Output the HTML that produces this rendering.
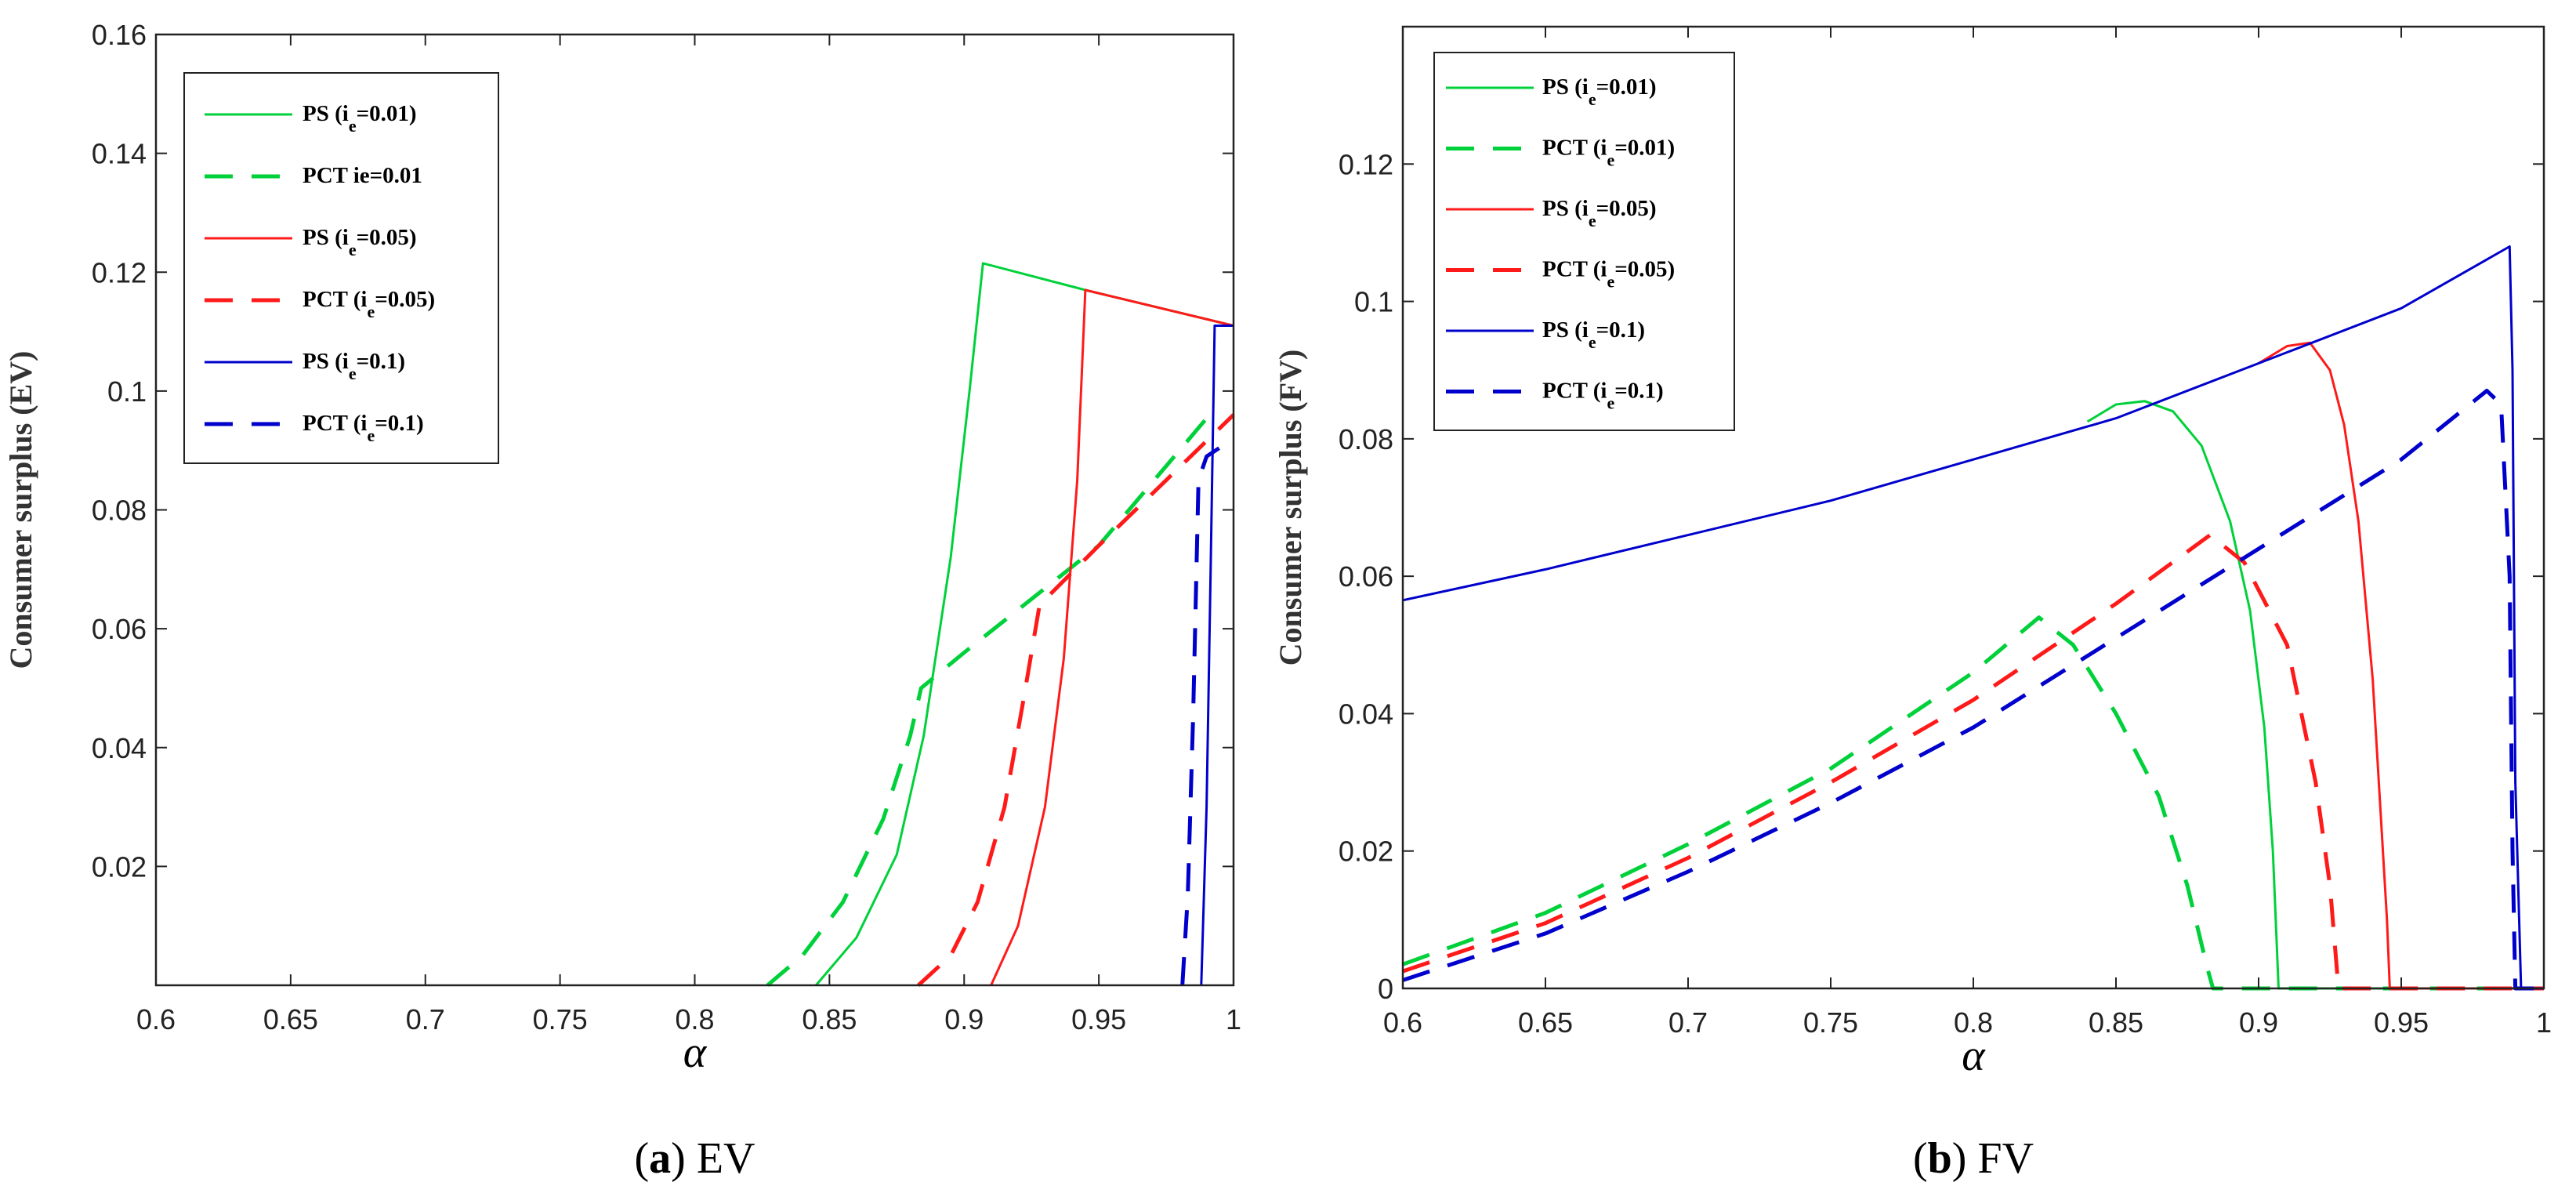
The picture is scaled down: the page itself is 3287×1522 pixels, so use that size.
<!DOCTYPE html>
<html><head><meta charset="utf-8"><style>
html,body{margin:0;padding:0;background:#fff;}
svg{display:block;}
.tick{font-family:"Liberation Sans",Arial,sans-serif;font-size:36px;fill:#222;}
.leg{font-family:"Liberation Serif",serif;font-weight:bold;font-size:29px;fill:#000;}
.ylab{font-family:"Liberation Serif",serif;font-weight:bold;font-size:40px;fill:#333;}
.cap{font-family:"Liberation Serif",serif;font-size:56px;fill:#000;}
</style></head><body>
<svg id="fig" width="3287" height="1522" viewBox="0 0 3287 1522" xmlns="http://www.w3.org/2000/svg"></svg>
<script>
// ---- Panel (a) EV data ----
const evXTicks = [0.6,0.65,0.7,0.75,0.8,0.85,0.9,0.95,1];
const evXTickLabels = ["0.6","0.65","0.7","0.75","0.8","0.85","0.9","0.95","1"];
const evYTicks = [0.02,0.04,0.06,0.08,0.1,0.12,0.14,0.16];
const evYTickLabels = ["0.02","0.04","0.06","0.08","0.1","0.12","0.14","0.16"];
const evPS001x = [0.845,0.86,0.875,0.885,0.895,0.902,0.907,0.945,1];
const evPS001y = [0,0.008,0.022,0.042,0.072,0.1,0.1215,0.117,0.111];
const evPCT001x = [0.827,0.84,0.855,0.87,0.88,0.884,0.9,0.95,0.993];
const evPCT001y = [0,0.005,0.014,0.028,0.042,0.05,0.056,0.074,0.097];
const evPS005x = [0.91,0.92,0.93,0.937,0.942,0.945,1];
const evPS005y = [0,0.01,0.03,0.055,0.085,0.117,0.111];
const evPCT005x = [0.883,0.895,0.905,0.915,0.922,0.928,0.95,1];
const evPCT005y = [0,0.005,0.014,0.03,0.048,0.064,0.074,0.096];
const evPS01x = [0.988,0.99,0.9915,0.993,1];
const evPS01y = [0,0.03,0.07,0.111,0.111];
const evPCT01x = [0.981,0.983,0.985,0.987,0.99,1];
const evPCT01y = [0,0.015,0.045,0.085,0.089,0.092];
// ---- Panel (b) FV data ----
const fvXTicks = [0.6,0.65,0.7,0.75,0.8,0.85,0.9,0.95,1];
const fvXTickLabels = ["0.6","0.65","0.7","0.75","0.8","0.85","0.9","0.95","1"];
const fvYTicks = [0,0.02,0.04,0.06,0.08,0.1,0.12];
const fvYTickLabels = ["0","0.02","0.04","0.06","0.08","0.1","0.12"];
const fvPS01x = [0.6,0.65,0.7,0.75,0.8,0.85,0.9,0.95,0.988,0.989,0.99,0.992,1];
const fvPS01y = [0.0565,0.061,0.066,0.071,0.077,0.083,0.091,0.099,0.108,0.09,0.03,0,0];
const fvPS001x = [0.84,0.85,0.86,0.87,0.88,0.89,0.897,0.902,0.905,0.907,1];
const fvPS001y = [0.0825,0.085,0.0855,0.084,0.079,0.068,0.055,0.038,0.02,0,0];
const fvPS005x = [0.9,0.91,0.918,0.925,0.93,0.935,0.94,0.945,0.946,1];
const fvPS005y = [0.091,0.0935,0.094,0.09,0.082,0.068,0.045,0.01,0,0];
const fvPCT001x = [0.6,0.65,0.7,0.75,0.8,0.823,0.835,0.85,0.865,0.875,0.882,0.884,1];
const fvPCT001y = [0.0035,0.011,0.021,0.032,0.046,0.054,0.05,0.04,0.028,0.015,0.003,0,0];
const fvPCT005x = [0.6,0.65,0.7,0.75,0.8,0.85,0.883,0.895,0.91,0.92,0.925,0.928,1];
const fvPCT005y = [0.0025,0.0095,0.019,0.03,0.042,0.056,0.066,0.062,0.05,0.03,0.015,0,0];
const fvPCT01x = [0.6,0.65,0.7,0.75,0.8,0.85,0.9,0.95,0.98,0.985,0.988,0.989,0.99,1];
const fvPCT01y = [0.0012,0.008,0.017,0.027,0.038,0.051,0.064,0.077,0.087,0.085,0.06,0.02,0,0];

const NS="http://www.w3.org/2000/svg";
const svg=document.getElementById('fig');
function mk(tag,attrs,parent){const e=document.createElementNS(NS,tag);for(const k in attrs)e.setAttribute(k,attrs[k]);(parent||svg).appendChild(e);return e;}

function panel(cfg){
  const g=mk('g',{});
  
  
  const sx=v=>cfg.x0+(v-cfg.xmin)/(cfg.xmax-cfg.xmin)*(cfg.x1-cfg.x0);
  const sy=v=>cfg.yb+(v-cfg.ymin)/(cfg.ymax-cfg.ymin)*(cfg.yt-cfg.yb);
  cfg.series.forEach(s=>{
    const pts=s.x.map((xv,i)=>sx(xv).toFixed(1)+','+sy(s.y[i]).toFixed(1)).join(' ');
    const p=mk('polyline',{points:pts,fill:'none',stroke:s.color,'stroke-width':s.dash?5:3,'stroke-dasharray':s.dash?'36,24':'none','stroke-linejoin':'round'},g);
    
    
  });
  const box=mk('rect',{x:cfg.x0,y:cfg.yt,width:cfg.x1-cfg.x0,height:cfg.yb-cfg.yt,fill:'none',stroke:'#222','stroke-width':2.5},g);
  
  
  cfg.xticks.forEach((t,i)=>{
    const X=sx(t);
    mk('line',{x1:X,x2:X,y1:cfg.yb,y2:cfg.yb-14,stroke:'#222','stroke-width':2},g);
    mk('line',{x1:X,x2:X,y1:cfg.yt,y2:cfg.yt+14,stroke:'#222','stroke-width':2},g);
    const tx=mk('text',{x:X,y:cfg.yb+56,'text-anchor':'middle',class:'tick'},g);
    tx.textContent=cfg.xlabels[i];
    
    
  });
  cfg.yticks.forEach((t,i)=>{
    const Y=sy(t);
    mk('line',{x1:cfg.x0,x2:cfg.x0+14,y1:Y,y2:Y,stroke:'#222','stroke-width':2},g);
    mk('line',{x1:cfg.x1,x2:cfg.x1-14,y1:Y,y2:Y,stroke:'#222','stroke-width':2},g);
    const ty=mk('text',{x:cfg.x0-12,y:Y+13,'text-anchor':'end',class:'tick'},g);
    ty.textContent=cfg.ylabels[i];
    
    
  });
  const xt=mk('text',{x:(cfg.x0+cfg.x1)/2,y:cfg.yb+104,'text-anchor':'middle',class:'cap','font-style':'italic','font-size':'46'},g);
  xt.textContent='α';
  
  
  const yt=mk('text',{x:0,y:0,'text-anchor':'middle',class:'ylab',transform:`translate(${cfg.ylabX},${(cfg.yt+cfg.yb)/2}) rotate(-90)`},g);
  yt.textContent=cfg.ytitle;
  
  
  const L=cfg.legend;
  const lb=mk('rect',{x:L.x,y:L.y,width:L.w,height:L.h,fill:'#fff',stroke:'#222','stroke-width':2},g);
  
  
  cfg.series.forEach((s,i)=>{
    const Y=L.firstY+i*L.step;
    const ln=mk('line',{x1:L.lx0,x2:L.lx1,y1:Y,y2:Y,stroke:s.color,'stroke-width':s.dash?5:3,'stroke-dasharray':s.dash?'36,24':'none'},g);
    
    
    const t=mk('text',{x:L.tx,y:Y+8,class:'leg'},g);
    
    
    if(s.plain){t.textContent=s.label;}
    else{
      t.appendChild(document.createTextNode(s.pre+' (i'));
      const sub=mk('tspan',{dy:14,'font-size':22},t);sub.textContent='e';
      const rest=mk('tspan',{dy:-14},t);rest.textContent='='+s.val+')';
    }
  });
  const c=mk('text',{x:(cfg.x0+cfg.x1)/2,y:1496,'text-anchor':'middle',class:'cap'},g);
  
  
  c.appendChild(document.createTextNode('('));
  const b=mk('tspan',{'font-weight':'bold'},c);b.textContent=cfg.capLetter;
  c.appendChild(document.createTextNode(') '+cfg.capText));
}
const G='#00d13a',R='#ff1a1a',B='#0000cc';
panel({name:'panel-ev',x0:199,x1:1574,yt:44,yb:1257,xmin:0.6,xmax:1,ymin:0,ymax:0.16,
  xticks:evXTicks,xlabels:evXTickLabels,yticks:evYTicks,ylabels:evYTickLabels,
  ytitle:'Consumer surplus (EV)',ylabX:40,capLetter:'a',capText:'EV',
  legend:{x:235,y:93,w:401,h:498,firstY:146,step:79,lx0:261,lx1:373,tx:386},
  series:[
   {id:'ps-ie-0.01',x:evPS001x,y:evPS001y,color:G,dash:false,pre:'PS',val:'0.01'},
   {id:'pct-ie-0.01',x:evPCT001x,y:evPCT001y,color:G,dash:true,plain:true,label:'PCT ie=0.01'},
   {id:'ps-ie-0.05',x:evPS005x,y:evPS005y,color:R,dash:false,pre:'PS',val:'0.05'},
   {id:'pct-ie-0.05',x:evPCT005x,y:evPCT005y,color:R,dash:true,pre:'PCT',val:'0.05'},
   {id:'ps-ie-0.1',x:evPS01x,y:evPS01y,color:B,dash:false,pre:'PS',val:'0.1'},
   {id:'pct-ie-0.1',x:evPCT01x,y:evPCT01y,color:B,dash:true,pre:'PCT',val:'0.1'}]});
panel({name:'panel-fv',x0:1790,x1:3246,yt:34,yb:1261,xmin:0.6,xmax:1,ymin:0,ymax:0.14,
  xticks:fvXTicks,xlabels:fvXTickLabels,yticks:fvYTicks,ylabels:fvYTickLabels,
  ytitle:'Consumer surplus (FV)',ylabX:1660,capLetter:'b',capText:'FV',
  legend:{x:1830,y:67,w:383,h:482,firstY:112,step:77.5,lx0:1845,lx1:1957,tx:1968},
  series:[
   {id:'ps-ie-0.01',x:fvPS001x,y:fvPS001y,color:G,dash:false,pre:'PS',val:'0.01'},
   {id:'pct-ie-0.01',x:fvPCT001x,y:fvPCT001y,color:G,dash:true,pre:'PCT',val:'0.01'},
   {id:'ps-ie-0.05',x:fvPS005x,y:fvPS005y,color:R,dash:false,pre:'PS',val:'0.05'},
   {id:'pct-ie-0.05',x:fvPCT005x,y:fvPCT005y,color:R,dash:true,pre:'PCT',val:'0.05'},
   {id:'ps-ie-0.1',x:fvPS01x,y:fvPS01y,color:B,dash:false,pre:'PS',val:'0.1'},
   {id:'pct-ie-0.1',x:fvPCT01x,y:fvPCT01y,color:B,dash:true,pre:'PCT',val:'0.1'}]});
</script>
</body></html>
